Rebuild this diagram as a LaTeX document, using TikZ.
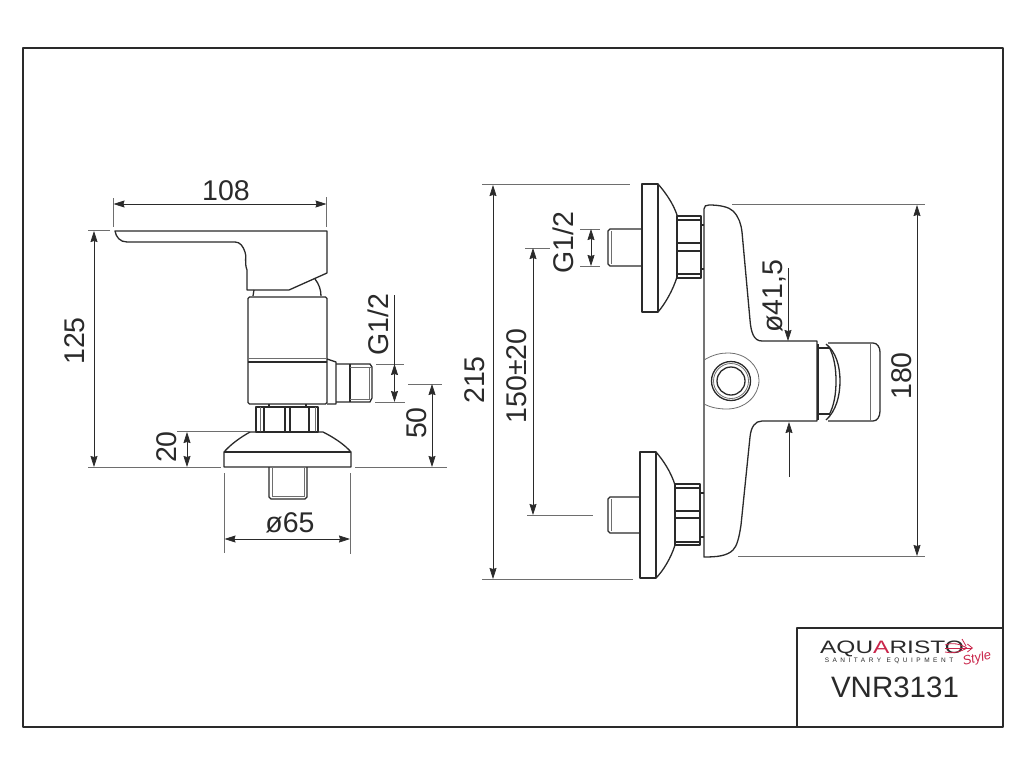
\documentclass[tikz,border=0pt]{standalone}
\usepackage{fontspec}
\setmainfont{Liberation Sans}
\newfontfamily\slogantype[LetterSpace=54]{Liberation Sans}
\usetikzlibrary{arrows.meta}
\definecolor{inkdark}{HTML}{2A2A2A}
\definecolor{inkgray}{HTML}{6E6E6E}
\definecolor{logored}{HTML}{C9254A}
\tikzset{
  part/.style={draw=inkdark, line width=1.3pt, line join=round},
  thinpart/.style={draw=inkgray, line width=0.8pt},
  extline/.style={draw=inkgray, line width=0.9pt},
  dimline/.style={draw=inkdark, line width=0.7pt, {Stealth[length=11pt,width=7pt,inset=1pt]}-{Stealth[length=11pt,width=7pt,inset=1pt]}},
  dimend/.style={draw=inkdark, line width=0.7pt, -{Stealth[length=11pt,width=7pt,inset=1pt]}},
  dimtext/.style={text=inkdark, inner sep=0pt, font=\fontsize{28.5}{28.5}\selectfont},
}
\begin{document}
\begin{tikzpicture}[x=1pt, y=-1pt]
    \useasboundingbox (0,0) rectangle (1024,768);

    % Frame and title block
    \draw[part] (23,48) rectangle (1003,727);
    \draw[part] (797,727) -- (797,628) -- (1003,628);
    \node[dimtext, font=\fontsize{29.5}{29.5}\selectfont] (code) at (895,687) {VNR3131};
    \node[inner sep=0pt, xscale=1.36, transform shape, font=\fontsize{18}{18}\selectfont, text=inkdark] (brand) at (892,648.5) {AQU\textcolor{logored}{A}RISTO};
    \node[inner sep=0pt, font=\slogantype\fontsize{6.5}{7}\selectfont, text=inkdark] (slogan) at (889,661) {SANITARY EQUIPMENT};
    \node[inner sep=0pt, font=\itshape\fontsize{13}{13}\selectfont, text=logored, rotate=14] (style) at (977,659) {Style};
    \draw[logored, line width=0.8pt, -{Straight Barb[length=5pt,width=8pt]}] (945,648) -- (973,648);
    \draw[logored, line width=0.8pt] (945,645) .. controls (952,642) and (960,644) .. (967,648)
        (945,652) .. controls (952,654) and (960,652) .. (967,648)
        (962,639) -- (966,646);

    % Side view: lever
    \draw[part] (115,231) -- (327,231) -- (327,273) -- (289,290) -- (247,290) -- (247,270)
        .. controls (244,262) and (247,256) .. (245,252)
        .. controls (243,246) and (240,242) .. (235,242) -- (127,242)
        .. controls (120,242) and (116,237) .. (115,231) -- cycle;
    \draw[part] (315,279) .. controls (319,284) and (321,290) .. (321,296);
    \draw[part] (254,290) -- (253,296);

    % Side view: body
    \draw[part, rounded corners=1.5pt] (248,297) rectangle (327,404);
    \draw[thinpart] (248,358) -- (327,358);
    \draw[part] (248,362) -- (327,362);
    \draw[part] (327,359) -- (336,362) -- (336,404) -- (327,404);
    \draw[part] (336,364) -- (370,364) -- (372,367) -- (372,398) -- (370,402) -- (336,402);
    \draw[part] (350,364) -- (350,402);
    \draw[thinpart] (350,367) -- (371,367) (350,399) -- (371,399) (369,367) -- (369,399);

    % Side view: nut, rosette, pin
    \draw[part] (269,404) -- (269,407) (306,404) -- (306,407);
    \draw[part] (256,407) rectangle (318,432);
    \foreach \xnut in {264,285,290,309} {
        \draw[part] (\xnut,407) -- (\xnut,432);
    }
    \foreach \xnut in {260,315} {
        \draw[thinpart] (\xnut,407) -- (\xnut,432);
    }
    \draw[part] (224,467) -- (224,452) .. controls (231,444) and (241,437) .. (250,432) -- (323,432)
        .. controls (333,437) and (344,444) .. (351,452) -- (351,467) -- cycle;
    \draw[part] (224,452) -- (351,452);
    \draw[part] (269,467) -- (269,497) -- (271,499) -- (305,499) -- (307,497) -- (307,467);
    \draw[thinpart] (272,468) -- (272,496) -- (304,496) -- (304,468);

    % Side view: dimensions
    \draw[extline] (113.5,198) -- (113.5,227) (326.5,197) -- (326.5,227);
    \draw[dimline] (113.5,204) -- (326.5,204);
    \node[dimtext] (len108) at (226,190.5) {108};
    \draw[extline] (88,230) -- (110,230) (88,467) -- (221,467);
    \draw[dimline] (94,231) -- (94,467);
    \node[dimtext, rotate=90] (len125) at (75,341) {125};
    \draw[extline] (177,431.5) -- (250,431.5);
    \draw[dimline] (187,432) -- (187,467);
    \node[dimtext, rotate=90] (len20) at (167,447) {20};
    \draw[extline] (408,384) -- (442,384) (355,467) -- (447,467);
    \draw[dimline] (432,384) -- (432,467);
    \node[dimtext, rotate=90] (len50) at (417,423) {50};
    \draw[extline] (376,364) -- (404,364) (375,402) -- (405,402);
    \draw[dimline] (394.5,364) -- (394.5,402);
    \draw[draw=inkdark, line width=0.7pt] (394.5,295) -- (394.5,366);
    \node[dimtext, rotate=90] (threadside) at (378,325) {G1/2};
    \draw[extline] (224.5,473) -- (224.5,553) (350,473) -- (350,554);
    \draw[dimline] (224.5,539) -- (350,539);
    \node[dimtext] (dia65) at (290,523) {ø65};

    % Front view: upper connection
    \draw[part] (642,184) rectangle (658,312);
    \draw[part] (658,184) .. controls (665,192) and (673,203) .. (677,215) -- (677,277)
        .. controls (673,290) and (665,304) .. (658,312);
    \draw[part] (642,229) -- (610,229) -- (608,231) -- (608,264) -- (610,266) -- (642,266);
    \draw[thinpart] (611,231) -- (611,264);
    \draw[part] (677,216) rectangle (701,278);
    \foreach \ynut in {220,243,251,274} {
        \draw[part] (677,\ynut) -- (701,\ynut);
    }
    \draw[part] (701,225) -- (704,225) (701,269) -- (704,269);

    % Front view: lower connection
    \draw[part] (640,452) rectangle (656,578);
    \draw[part] (656,452) .. controls (663,460) and (671,472) .. (675,485) -- (675,545)
        .. controls (671,558) and (663,571) .. (656,578);
    \draw[part] (640,497) -- (610,497) -- (608,499) -- (608,531) -- (610,533) -- (640,533);
    \draw[thinpart] (611,499) -- (611,531);
    \draw[part] (675,484) rectangle (700,545);
    \foreach \ynut in {488,511,518,542} {
        \draw[part] (675,\ynut) -- (700,\ynut);
    }
    \draw[part] (700,493) -- (704,493) (700,537) -- (704,537);

    % Front view: body and eye
    \draw[part] (704,557) -- (704,209) .. controls (704,206) and (706,205) .. (709,205)
        .. controls (720,205) and (729,207) .. (733,211)
        .. controls (739,217) and (741,224) .. (742,232)
        -- (750,320) .. controls (751,333) and (754,341) .. (762,341)
        -- (817,341) -- (817,421) -- (762,421)
        .. controls (755,421) and (751,427) .. (750,437)
        -- (741,525) .. controls (739,538) and (737,546) .. (733,550)
        .. controls (727,556) and (717,557) .. (704,557) -- cycle;
    \draw[thinpart] (704,360) .. controls (714,354) and (722,353) .. (728,353)
        .. controls (746,353) and (759,366) .. (759,380)
        .. controls (759,396) and (745,409) .. (727,409)
        .. controls (719,409) and (712,408) .. (704,404);
    \draw[part] (731,381) circle (19.5pt);
    \draw[thinpart] (731,381) circle (17.5pt);
    \draw[part] (731,381) circle (14pt);

    % Front view: knob
    \draw[part] (818,348) -- (830,348) (818,414) -- (830,414) (818,344) -- (818,420);
    \draw[part] (826,344) .. controls (836,352) and (840,366) .. (840,381)
        .. controls (840,396) and (836,411) .. (826,420);
    \draw[part] (829,347) .. controls (834,356) and (836,368) .. (836,381)
        .. controls (836,394) and (834,406) .. (829,415);
    \draw[part] (828,343) -- (873,343) .. controls (877,343) and (880,347) .. (880,352)
        -- (880,411) .. controls (880,417) and (877,421) .. (873,421) -- (828,421);
    \draw[thinpart] (870,343) -- (870,421);

    % Front view: dimensions
    \draw[extline] (482,184.5) -- (630,184.5) (482,579) -- (633,579);
    \draw[dimline] (493,185) -- (493,579);
    \node[dimtext, rotate=90] (len215) at (475,380) {215};
    \draw[extline] (525,248) -- (550,248) (527,515) -- (593,515);
    \draw[dimline] (533,248) -- (533,515);
    \node[dimtext, rotate=90] (len150) at (517,376) {150±20};
    \draw[extline] (580,229) -- (600,229) (580,266) -- (600,266);
    \draw[dimline] (591,229) -- (591,266);
    \node[dimtext, rotate=90] (threadfront) at (563,243) {G1/2};
    \draw[dimend] (788,268) -- (788,341);
    \draw[dimend] (789,477) -- (789,422);
    \node[dimtext, rotate=90] (dia415) at (775,296) {ø41,5};
    \draw[extline] (732,204.5) -- (925,204.5) (738,556) -- (925,556);
    \draw[dimline] (917,205) -- (917,556);
    \node[dimtext, rotate=90] (len180) at (902,376) {180};

\end{tikzpicture}
\end{document}
